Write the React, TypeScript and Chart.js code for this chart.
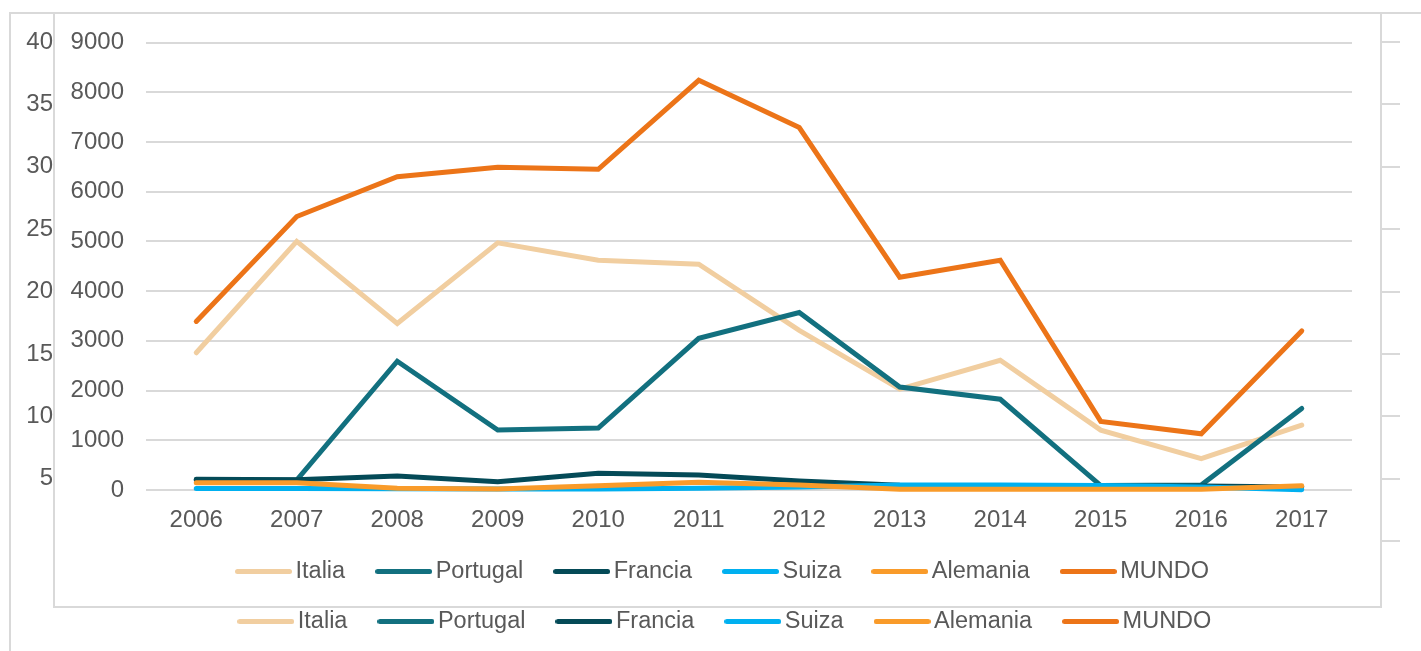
import React, { useEffect, useRef } from 'react';
import { Chart, registerables } from 'chart.js';

Chart.register(...registerables);

// ---------------- data ----------------
const years = ['2006', '2007', '2008', '2009', '2010', '2011', '2012', '2013', '2014', '2015', '2016', '2017'];
const seriesNames = ['Italia', 'Portugal', 'Francia', 'Suiza', 'Alemania', 'MUNDO'];
const italia = [2760, 5000, 3350, 4970, 4620, 4540, 3210, 2030, 2610, 1205, 630, 1305];
const portugal = [200, 200, 2590, 1205, 1245, 3050, 3570, 2070, 1825, 90, 100, 1640];
const francia = [215, 205, 280, 165, 335, 300, 180, 95, 85, 60, 80, 60];
const suiza = [30, 30, 25, 20, 20, 35, 60, 100, 100, 90, 60, 5];
const alemania = [147, 147, 35, 20, 86, 155, 100, 15, 15, 15, 15, 86];
const mundo = [3390, 5500, 6300, 6490, 6450, 8240, 7290, 4280, 4620, 1380, 1130, 3200];
const seriesColors = ['#F1CEA0', '#12707F', '#044A57', '#00B0F0', '#F99B2A', '#EC7418'];

// axis ranges
const innerMin = 0;
const innerMax = 9000;
const innerStep = 1000;
const outerMin = 0;
const outerMax = 40;
const outerStep = 5;

const TEXT = '#595959';
const GRID = '#d9d9d9';
const FONT = "'Liberation Sans', Arial, sans-serif";
const LEGEND_FS = 23.5;

const LEG_BOX = 40.5;
const LEG_IMG = 57;
const LEG_PAD = 38.25;

function makeLineImg(color: string) {
  const c = document.createElement('canvas');
  c.width = LEG_IMG;
  c.height = 7;
  const ctx = c.getContext('2d')!;
  ctx.strokeStyle = color;
  ctx.lineWidth = 5;
  ctx.lineCap = 'round';
  ctx.beginPath();
  ctx.moveTo(2.5, 3.5);
  ctx.lineTo(LEG_IMG - 2.5, 3.5);
  ctx.stroke();
  return c;
}

const legendPlace = {
  id: 'legendPlace',
  afterLayout(chart: any, _args: any, opts: any) {
    const lg = chart.legend;
    if (!lg || !opts || opts.x == null) return;
    const pad = lg.options.labels.padding;
    const fs = LEGEND_FS;
    const lw = lg.lineWidths ? lg.lineWidths[0] : 0;
    const x0 = (lg.left + pad + lg.right - lw) / 2;
    const dx = opts.x - x0;
    lg.left += dx;
    lg.right += dx;
    const top = opts.y - pad - fs / 2;
    lg.top = top;
    lg.bottom = top + pad + fs + 20;
  },
};

function buildDatasets(withData: boolean) {
  const values = [italia, portugal, francia, suiza, alemania, mundo];
  return seriesNames.map((name, i) => ({
    label: name,
    data: withData ? values[i] : [],
    borderColor: seriesColors[i],
    backgroundColor: seriesColors[i],
    borderWidth: 5,
    pointRadius: 0,
    tension: 0,
    borderCapStyle: 'round' as const,
    fill: false,
    clip: false as any,
    order: seriesNames.length - i,
  }));
}

function legendOptions(imgs: HTMLCanvasElement[], lineStartX: number, y: number) {
  return {
    legend: {
      display: true,
      position: 'bottom' as const,
      maxHeight: 1,
      labels: {
        usePointStyle: true,
        pointStyleWidth: LEG_BOX,
        boxHeight: 7,
        padding: LEG_PAD,
        color: TEXT,
        font: { family: FONT, size: LEGEND_FS },
        generateLabels: (chart: any) =>
          chart.data.datasets.map((ds: any, i: number) => ({
            text: ds.label,
            pointStyle: imgs[i],
            fillStyle: seriesColors[i],
            strokeStyle: seriesColors[i],
            fontColor: TEXT,
            lineWidth: 0,
            hidden: false,
            datasetIndex: i,
          })),
      },
    },
    tooltip: { enabled: false },
    legendPlace: { x: lineStartX + (LEG_IMG - LEG_BOX) / 2, y },
  };
}

export default function App() {
  const outerRef = useRef<HTMLCanvasElement>(null);
  const innerRef = useRef<HTMLCanvasElement>(null);

  useEffect(() => {
    const imgs = seriesColors.map((c) => makeLineImg(c));

    const outer = new Chart(outerRef.current!, {
      type: 'line',
      data: { labels: years, datasets: buildDatasets(false) as any },
      plugins: [legendPlace as any],
      options: {
        responsive: false,
        animation: false,
        devicePixelRatio: 1,
        layout: { padding: { left: 10, right: 0, top: 42, bottom: 109 } },
        plugins: legendOptions(imgs, 237.3, 621.5) as any,
        scales: {
          x: { type: 'category', display: false },
          y: {
            position: 'left',
            min: outerMin,
            max: outerMax,
            ticks: {
              stepSize: outerStep,
              padding: 3,
              color: TEXT,
              font: { family: FONT, size: 24 },
              callback: (v: any) => (Number(v) === 0 ? '' : String(v)),
            },
            grid: { display: false, drawTicks: false },
            border: { display: false },
            afterFit: (s: any) => {
              s.width = 46;
            },
          },
          y2: {
            position: 'right',
            min: outerMin,
            max: outerMax,
            ticks: { stepSize: outerStep, display: false },
            grid: { drawOnChartArea: false, drawTicks: true, tickLength: 19, color: GRID, lineWidth: 2 },
            border: { display: true, color: GRID, width: 2 },
            afterFit: (s: any) => {
              s.width = 40;
            },
          },
        },
      } as any,
    });

    const inner = new Chart(innerRef.current!, {
      type: 'line',
      data: { labels: years, datasets: buildDatasets(true) as any },
      plugins: [legendPlace as any],
      options: {
        responsive: false,
        animation: false,
        devicePixelRatio: 1,
        layout: { padding: { left: 0, right: 28, top: 28.5, bottom: 0 } },
        plugins: legendOptions(imgs, 235 - 55, 557.5) as any,
        scales: {
          x: {
            type: 'category',
            offset: true,
            grid: { display: false, drawTicks: false },
            border: { display: false },
            ticks: {
              padding: 16,
              color: TEXT,
              font: { family: FONT, size: 24 },
              maxRotation: 0,
              autoSkip: false,
            },
            afterFit: (s: any) => {
              s.height = 115;
            },
          },
          y: {
            min: innerMin,
            max: innerMax,
            ticks: {
              stepSize: innerStep,
              padding: 0,
              color: TEXT,
              font: { family: FONT, size: 24 },
              callback: (v: any) => String(v),
            },
            grid: {
              color: GRID,
              lineWidth: 2,
              drawTicks: true,
              tickLength: 22,
              tickColor: 'rgba(0,0,0,0)',
            },
            border: { display: false },
            afterFit: (s: any) => {
              s.width = 91;
            },
          },
        },
      } as any,
    });

    return () => {
      outer.destroy();
      inner.destroy();
    };
  }, []);

  return (
    <div style={{ position: 'fixed', left: 0, top: 0, width: 1421, height: 651, overflow: 'hidden', background: '#fff' }}>
      <div
        style={{
          position: 'absolute',
          left: 9,
          top: 12,
          width: 1500,
          height: 700,
          border: `2px solid ${GRID}`,
        }}
      />
      <div style={{ position: 'absolute', left: 0, top: 0, width: 1421, height: 651 }}>
        <canvas ref={outerRef} width={1421} height={651} style={{ display: 'block' }} />
      </div>
      <div
        style={{
          position: 'absolute',
          left: 53,
          top: 12,
          width: 1325,
          height: 592,
          border: `2px solid ${GRID}`,
          background: '#fff',
        }}
      >
        <canvas ref={innerRef} width={1325} height={592} style={{ display: 'block' }} />
      </div>
    </div>
  );
}
